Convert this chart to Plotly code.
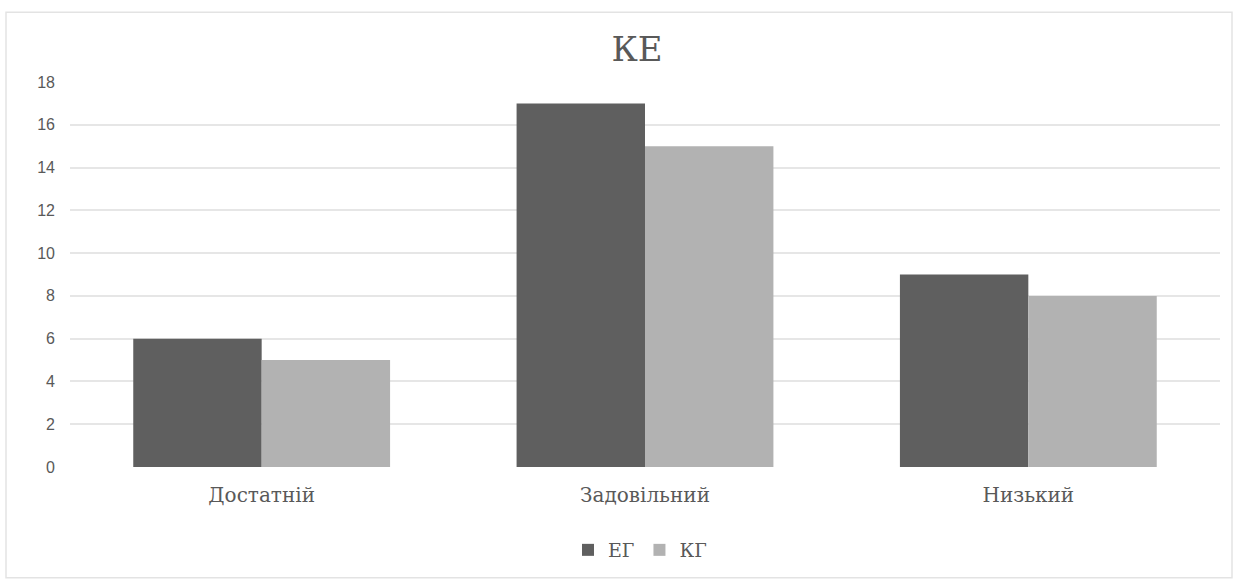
import plotly.graph_objects as go

categories = ["Достатній", "Задовільний", "Низький"]
series_names = ["ЕГ", "КГ"]
eg_values = [6, 17, 9]
kg_values = [5, 15, 8]
y_ticks = [0, 2, 4, 6, 8, 10, 12, 14, 16, 18]

W, H = 1235, 580
ml, mr, mt, mb = 70, 15, 82, 112

fig = go.Figure()
fig.add_trace(go.Bar(x=categories, y=eg_values, name=series_names[0],
                     marker=dict(color="#5f5f5f", line=dict(width=0))))
fig.add_trace(go.Bar(x=categories, y=kg_values, name=series_names[1],
                     marker=dict(color="#b2b2b2", line=dict(width=0))))

pw = W - ml - mr
ph = H - mt - mb
# outer chart border
x0 = (6 - ml) / pw
x1 = (1232 - ml) / pw
y1 = (H - 12 - mb) / ph
y0 = (H - 579 - mb) / ph
fig.add_shape(type="rect", xref="paper", yref="paper", x0=x0, x1=x1, y0=y0, y1=y1,
              line=dict(color="#e3e3e3", width=1.5), fillcolor="rgba(0,0,0,0)", layer="below")

fig.update_layout(
    width=W, height=H,
    margin=dict(l=ml, r=mr, t=mt, b=mb),
    paper_bgcolor="white", plot_bgcolor="white",
    barmode="group", bargap=0.33, bargroupgap=0,
    title=dict(text="КЕ", xref="paper", x=(637 - ml) / pw, xanchor="center",
               y=1 - 49 / H, yanchor="middle",
               font=dict(family="DejaVu Serif", size=34, color="#595959")),
    xaxis=dict(showgrid=False, showline=False, zeroline=False, ticks="",
               tickfont=dict(family="DejaVu Serif", size=20, color="#595959"),
               ticklabelstandoff=14),
    yaxis=dict(range=[0, 18], tickvals=y_ticks, showgrid=True, gridcolor="#e6e6e6",
               gridwidth=2, zeroline=False, showline=False, ticks="",
               tickfont=dict(family="Liberation Sans", size=16, color="#595959"),
               ticklabelstandoff=14),
    legend=dict(orientation="h", x=(640 - ml) / pw, xanchor="center",
                y=-(550 - (H - mb)) / ph, yanchor="middle",
                font=dict(family="DejaVu Serif", size=19, color="#595959"),
                itemwidth=30, traceorder="normal"),
)

fig.write_html("out.html")
